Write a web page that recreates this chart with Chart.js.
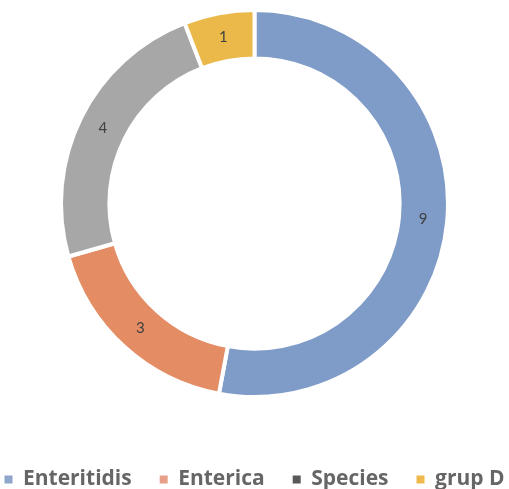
<!DOCTYPE html>
<html>
<head>
<meta charset="utf-8">
<script src="https://cdn.jsdelivr.net/npm/chart.js@4/dist/chart.umd.min.js"></script>
<style>
  html, body { margin: 0; padding: 0; background: #fff; }
  #wrap { width: 509px; height: 489px; }
</style>
</head>
<body>
<div id="wrap"><canvas id="ringChart"></canvas></div>
<script>
var labels = ["Enteritidis", "Enterica", "Species", "grup D"];
var counts = [9, 3, 4, 1];
var sliceColors = ["#7f9bc8", "#e48d65", "#a7a7a7", "#ebb94a"];
var legendColors = ["#8ea5cc", "#e6a08a", "#595959", "#f0b84b"];

// draws the count in the middle of each slice
const sliceLabels = {
  id: 'sliceLabels',
  afterDatasetsDraw(chart) {
    const ctx = chart.ctx;
    const meta = chart.getDatasetMeta(0);
    ctx.save();
    ctx.font = '15px Lato';
    ctx.fillStyle = '#404040';
    ctx.textAlign = 'center';
    ctx.textBaseline = 'middle';
    meta.data.forEach(function(arc, i) {
      const pos = arc.tooltipPosition();
      ctx.fillText(chart.data.datasets[0].data[i], pos.x, pos.y);
    });
    ctx.restore();
  }
};

new Chart(document.getElementById('ringChart'), {
  type: 'doughnut',
  data: {
    labels: labels,
    datasets: [{
      data: counts,
      backgroundColor: sliceColors,
      borderColor: '#ffffff',
      borderWidth: 4,
      hoverOffset: 0
    }]
  },
  options: {
    responsive: true,
    maintainAspectRatio: false,
    animation: false,
    cutout: '75%',
    layout: { padding: { top: 8, bottom: -11, left: -35, right: -35 } },
    plugins: {
      tooltip: { enabled: false },
      legend: {
        position: 'bottom',
        title: { display: true, text: '', font: { size: 10, lineHeight: 1 }, padding: { top: 32, bottom: 0 } },
        labels: {
          boxWidth: 8,
          boxHeight: 8,
          padding: 28,
          color: '#111111',
          font: { family: '"Open Sans"', size: 21, weight: 'bold' },
          generateLabels: function(chart) {
            return labels.map(function(name, i) {
              return { text: name, fillStyle: legendColors[i], strokeStyle: legendColors[i], lineWidth: 0, index: i };
            });
          }
        }
      }
    }
  },
  plugins: [sliceLabels]
});
</script>
</body>
</html>
